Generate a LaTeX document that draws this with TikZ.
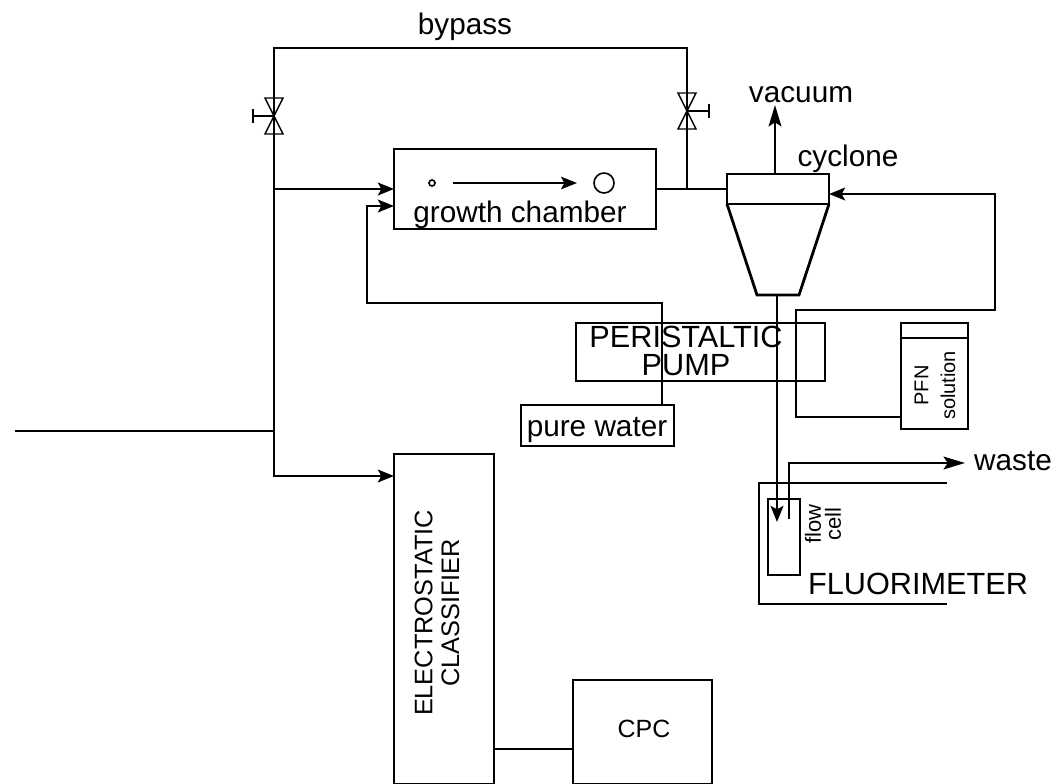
\documentclass[tikz,border=0pt]{standalone}
\usepackage{fontspec}
\setmainfont{Liberation Sans}
\usetikzlibrary{arrows.meta}

\begin{document}
\begin{tikzpicture}[
	x=0.75pt, y=-0.75pt,
	> = {Stealth[length=12pt,width=9.5pt,inset=2.5pt]},
	long/.style = {-{Stealth[length=16pt,width=9.5pt,inset=3pt]}},
	line width=2.1pt,
	box/.style 2 args = {draw, inner sep=0pt, outer sep=0pt,
		minimum width=#1*0.75pt, minimum height=#2*0.75pt},
	valveline/.style = {line width=1.1pt},
	growth/.style = {line width=1.2pt},
	lbl/.style = {inner sep=0pt, font=\fontsize{22.3}{26}\selectfont},
	caps/.style = {inner sep=0pt, align=center, font=\fontsize{23}{21}\selectfont},
	side/.style = {inner sep=0pt, align=center, rotate=90},
	]
	\useasboundingbox (0,0) rectangle (1052,784);

	% boxes
	\node[box={262}{80}] (chamber) at (525,189) {};
	\node[box={249}{58}] (pump) at (700.5,352) {};
	\node[box={153}{41}] (water) at (597.5,425.5) {};
	\node[box={67}{106}] (pfn) at (934.5,376) {};
	\draw (pfn.north west |- 0,338) -- (pfn.north east |- 0,338);
	\node[box={100}{330}] (classifier) at (444,619) {};
	\node[box={139}{104}] (cpc) at (642.5,732) {};
	\node[box={102}{30}] (head) at (778,189) {};
	\draw (head.south west) -- (757,295) -- (799,295) -- (head.south east);
	\draw (947,483) -- (759,483) -- (759,604) -- (947,604);
	\node[box={32}{76}] (cell) at (784,537) {};

	% free ends and joints
	\coordinate (inlet) at (15,431);
	\coordinate (tee) at (274,431);
	\coordinate (topl) at (274,48);
	\coordinate (topr) at (687,48);
	\coordinate (joint) at (274,189);
	\coordinate (lower) at (274,476);
	\coordinate (tap) at (687,189);
	\coordinate (vacfoot) at (775,174);
	\coordinate (vactip) at (775,105);
	\coordinate (drain) at (777,295);
	\coordinate (drop) at (777,522);
	\coordinate (rise) at (789,519);
	\coordinate (wasteend) at (965,463);

	% pipes
	\draw (inlet) -- (tee);
	\draw (tee) -- (topl) -- (topr) -- (tap);
	\draw[->] (joint) -- (chamber.west);
	\draw[->] (tee) -- (lower) -- (lower -| classifier.west);
	\draw[->] (662,405) -- (662,303) -- (367,303) -- (367,206) -- (394,206);
	\draw (chamber.east) -- (head.west);
	\draw[long] (vacfoot) -- (vactip);
	\draw[->] (pfn.west |- 0,417) -- (796,417) -- (796,310) -- (995,310) -- (995,194) -- (head.east |- 0,194);
	\draw[->] (drain) -- (drop);
	\draw[long] (rise) -- (789,463) -- (wasteend);
	\draw (classifier.east |- 0,749) -- (cpc.west |- 0,749);

	% valves
	\foreach \cx/\cy/\hx in {274/116/253, 687/111/709}
	{
		\draw[valveline] (\cx-9,\cy-18) -- (\cx+9,\cy-18) -- (\cx-9,\cy+18) -- (\cx+9,\cy+18) -- cycle;
		\draw[valveline] (\cx,\cy) -- (\hx,\cy) (\hx,\cy-7) -- (\hx,\cy+7);
	}

	% particle growth
	\node[growth, draw, circle, inner sep=0pt, minimum size=4.5pt] (seed) at (432,183) {};
	\node[growth, draw, circle, inner sep=0pt, minimum size=15pt] (grown) at (604,183) {};
	\draw[growth, ->] (453,183) -- (577,183);

	% labels
	\node[lbl] (bypass) at (465,27) {bypass};
	\node[lbl] (vacuum) at (801,95) {vacuum};
	\node[lbl] (cyclone) at (848,159) {cyclone};
	\node[lbl] (growthtxt) at (520,215) {growth chamber};
	\node[lbl] (watertxt) at (597,430) {pure water};
	\node[lbl] (waste) at (1013,461) {waste};
	\node[inner sep=0pt, font=\fontsize{18.7}{22}\selectfont] (cpctxt) at (644,729) {CPC};
	\node[caps] (pumptxt) at (686,351) {PERISTALTIC\\PUMP};
	\node[caps] (fluor) at (918,584) {FLUORIMETER};
	\node[side, font=\fontsize{19}{20}\selectfont] (classtxt) at (437,613) {ELECTROSTATIC\\CLASSIFIER};
	\node[side, font=\fontsize{15}{20}\selectfont] (pfntxt) at (935,385.5) {PFN\\solution};
	\node[side, font=\fontsize{16.5}{15}\selectfont] (flowtxt) at (823,524) {flow\\cell};
\end{tikzpicture}
\end{document}
